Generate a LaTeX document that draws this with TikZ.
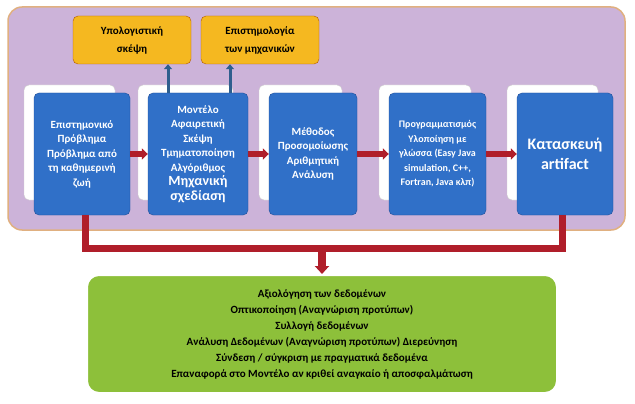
\documentclass[tikz,border=0pt]{standalone}
\usepackage{fontspec}
\setmainfont{Carlito}
\usetikzlibrary{arrows.meta}
\definecolor{purp}{HTML}{CCB3D9}
\definecolor{purpedge}{HTML}{E0B080}
\definecolor{blu}{HTML}{3070C8}
\definecolor{bluedge}{HTML}{1F4E99}
\definecolor{org}{HTML}{F5B820}
\definecolor{grn}{HTML}{8DC03A}
\definecolor{redc}{HTML}{B01E2A}
\definecolor{arrb}{HTML}{2E5E8E}
\begin{document}
\begin{tikzpicture}[x=1pt,y=-1pt,
  bluebox/.style={draw=bluedge,fill=blu,rounded corners=5pt,text=white,font=\bfseries\fontsize{11}{14.5}\selectfont,align=center},
  shadowbox/.style={draw=gray!40,fill=white,rounded corners=5pt},
  orgbox/.style={draw=orange!70!black,fill=org,rounded corners=5pt,font=\bfseries\fontsize{11}{18}\selectfont,align=center},
  redline/.style={redc,line width=7pt},
  redarr/.style={redc,line width=8pt,-{Triangle[length=8pt,width=14pt]}},
  bluearr/.style={arrb,line width=3pt,-{Triangle[length=5pt,width=8pt]}}]
\useasboundingbox (0,0) rectangle (635,404);
\fill[white] (0,0) rectangle (635,404);
\draw[purpedge,fill=purp,line width=1.5pt,rounded corners=14pt] (8,7) rectangle (625,230);
% orange
\node[orgbox,minimum width=118pt,minimum height=48pt] (o1) at (132,40) {Υπολογιστική\\σκέψη};
\node[orgbox,minimum width=118pt,minimum height=48pt] (o2) at (260,40) {Επιστημολογία\\των μηχανικών};
% shadows and boxes
\foreach \xa/\xb in {34/130,148/248,269/357,389/486,517/613}{
  \draw[shadowbox] (\xa-10,85) rectangle (\xb-15,200);
}
\node[bluebox,minimum width=96pt,minimum height=122pt] (b1) at (82,154) {Επιστημονικό\\Πρόβλημα\\Πρόβλημα από\\τη καθημερινή\\ζωή};
\node[bluebox,minimum width=100pt,minimum height=122pt] (b2) at (198,154) {Μοντέλο\\Αφαιρετική\\Σκέψη\\Τμηματοποίηση\\Αλγόριθμος\\{\fontsize{14}{17}\selectfont Μηχανική}\\{\fontsize{14}{17}\selectfont σχεδίαση}};
\node[bluebox,minimum width=88pt,minimum height=122pt] (b3) at (313,154) {Μέθοδος\\Προσομοίωσης\\Αριθμητική\\Ανάλυση};
\node[bluebox,minimum width=97pt,minimum height=122pt,font=\bfseries\fontsize{10}{14.5}\selectfont] (b4) at (437.5,154) {Προγραμματισμός\\Υλοποίηση με\\γλώσσα (Easy Java\\simulation, C++,\\Fortran, Java κλπ)};
\node[bluebox,minimum width=96pt,minimum height=122pt,font=\bfseries\fontsize{16}{20}\selectfont] (b5) at (565,154) {Κατασκευή\\artifact};
% arrows between
\foreach \a/\b in {b1/b2,b2/b3,b3/b4,b4/b5}{
  \draw[redc,line width=6pt,-{Triangle[length=6pt,width=11pt]}] (\a.east) -- (\b.west);
}
\draw[bluearr] ([xshift=-30pt]b2.north) -- ([xshift=-30pt]b2.north |- o1.south);
\draw[bluearr] ([xshift=32pt]b2.north) -- ([xshift=32pt]b2.north |- o2.south);
% green
\node[draw=white,line width=2pt,fill=grn,rounded corners=12pt,minimum width=470pt,minimum height=118pt,align=center,font=\bfseries\fontsize{11}{16}\selectfont] (g) at (322,334)
{Αξιολόγηση των δεδομένων\\Οπτικοποίηση (Αναγνώριση προτύπων)\\Συλλογή δεδομένων\\Ανάλυση Δεδομένων (Αναγνώριση προτύπων) Διερεύνηση\\Σύνδεση / σύγκριση με πραγματικά δεδομένα\\Επαναφορά στο Μοντέλο αν κριθεί αναγκαίο ή αποσφαλμάτωση};
\coordinate (cl) at (85,248);
\coordinate (cr) at (562,248);
\coordinate (cm) at (g.north |- cl);
\draw[redline] (b1.south -| cl) -- (cl) -- (cr) -- (b5.south -| cr);
\draw[redarr] (cm) -- (g.north);
\end{tikzpicture}
\end{document}
